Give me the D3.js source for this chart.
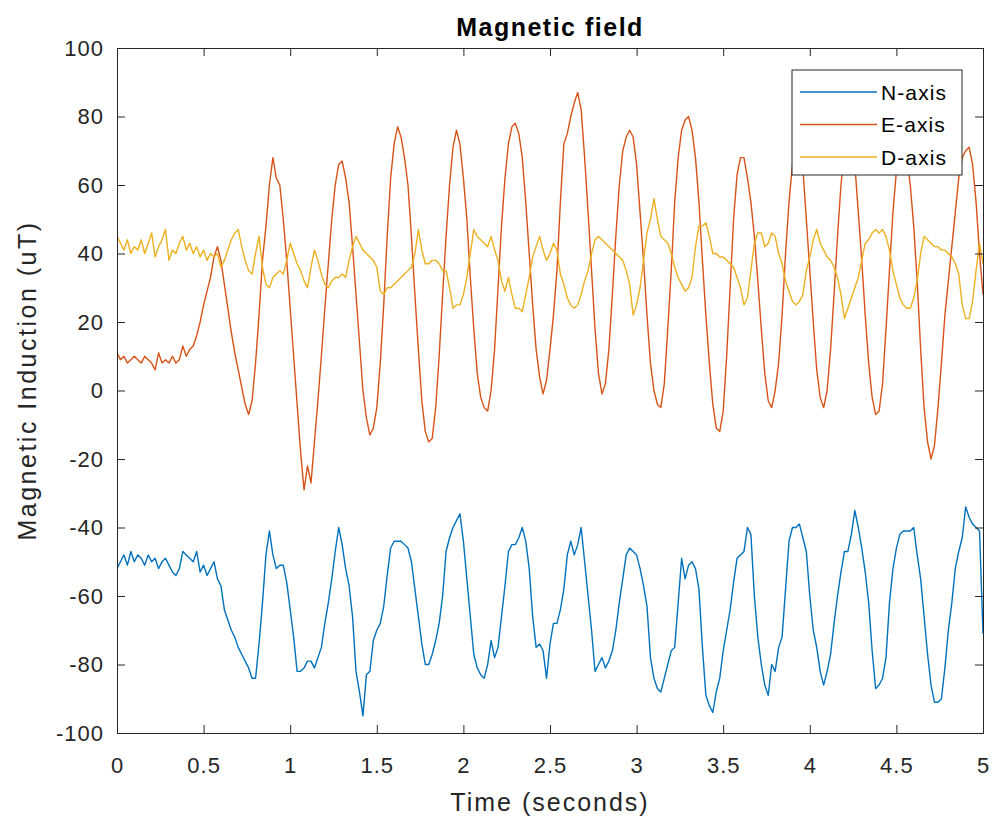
<!DOCTYPE html>
<html>
<head>
<meta charset="utf-8">
<script src="https://cdn.jsdelivr.net/npm/d3@7"></script>
<style>
  html, body { margin: 0; padding: 0; background: #fff; }
  svg { display: block; }
</style>
</head>
<body>
<svg id="chart" width="997" height="821"></svg>
<script>
// ---- data (sampled every 0.02 s, 0..5 s) ----
const sampleStep = 0.02;
const seriesNames = ["N-axis", "E-axis", "D-axis"];
const seriesColors = ["#0072BD", "#D95319", "#EDB120"];

const nAxis = [
  -52,-50,-48,-51,-47, -50,-48,-49,-51,-48, -50,-49,-52,-50,-49, -51,-53,-54,-52,-47,
  -48,-49,-50,-47,-53, -51,-54,-52,-50,-55, -57,-64,-67,-70,-72, -75,-77,-79,-81,-84,
  -84,-74,-62,-48,-41, -48,-52,-51,-51,-56, -64,-72,-82,-82,-81, -79,-79,-81,-78,-75,
  -68,-62,-55,-47,-40, -45,-52,-57,-66,-82, -88,-95,-83,-82,-73, -70,-68,-63,-54,-46,
  -44,-44,-44,-45,-46, -50,-58,-66,-74,-80, -80,-77,-73,-68,-60, -47,-43,-40,-38,-36,
  -44,-55,-66,-77,-81, -83,-84,-80,-73,-78, -75,-66,-57,-47,-45, -45,-43,-40,-44,-52,
  -66,-75,-74,-76,-84, -74,-68,-68,-64,-58, -48,-44,-48,-45,-40, -50,-60,-70,-82,-80,
  -78,-81,-79,-76,-70, -62,-55,-48,-46,-47, -48,-52,-57,-63,-78, -84,-87,-88,-84,-80,
  -76,-75,-62,-49,-55, -51,-50,-52,-58,-75, -89,-92,-94,-88,-84, -76,-70,-64,-56,-49,
  -48,-47,-40,-42,-60, -72,-80,-86,-89,-80, -82,-75,-72,-58,-44, -40,-40,-39,-43,-47,
  -60,-70,-75,-82,-86, -82,-77,-68,-60,-53, -47,-47,-42,-35,-40, -46,-53,-62,-76,-87,
  -86,-84,-78,-62,-52, -46,-42,-41,-41,-41, -40,-48,-55,-66,-77, -86,-91,-91,-90,-81,
  -70,-62,-52,-47,-43, -34,-37,-39,-40,-41, -71
];

const eAxis = [
  11,9,10,8,9, 10,9,8,10,9, 8,6,11,8,9, 8,10,8,9,13,
  10,12,13,16,20, 25,29,33,39,42, 38,31,24,17,11, 6,1,-4,-7,-3,
  8,22,38,48,60, 68,62,60,50,38, 24,10,-4,-18,-29, -22,-27,-15,-3,10,
  24,37,50,60,66, 67,62,55,42,28, 14,0,-8,-13,-11, -5,8,25,45,62,
  72,77,74,68,60, 45,28,12,-3,-12, -15,-14,-5,10,28, 45,60,71,76,72,
  62,50,33,18,5, -2,-5,-6,0,12, 30,48,62,72,77, 78,75,68,55,40,
  25,12,4,-1,3, 12,22,35,55,72, 75,80,84,87,82, 68,52,35,18,5,
  -1,2,12,28,45, 60,70,74,76,74, 66,52,38,22,8, 0,-4,-5,2,18,
  35,55,68,76,79, 80,76,68,55,38, 22,8,-4,-11,-12, -6,10,30,50,63,
  68,68,62,55,45, 32,18,5,-3,-5, 0,8,22,40,55, 66,73,74,65,50,
  35,20,6,-2,-5, 0,12,28,45,60, 70,75,74,66,52, 38,22,8,-2,-7,
  -6,2,18,35,52, 64,70,72,68,60, 48,32,12,-5,-15, -20,-16,-5,8,22,
  32,42,52,62,68, 70,71,66,55,40, 28
];

const dAxis = [
  45,43,41,44,40, 42,41,44,40,43, 46,39,42,44,47, 38,41,40,43,45,
  41,43,40,42,39, 41,38,40,39,40, 36,38,41,44,46, 47,42,38,35,34,
  40,45,36,31,30, 33,34,35,34,38, 43,40,37,35,32, 30,36,41,38,34,
  31,30,32,33,33, 34,33,38,42,45, 43,41,40,39,38, 36,29,28,30,30,
  31,32,33,34,35, 36,40,47,41,37, 37,38,38,37,35, 35,30,24,25,25,
  28,33,40,47,45, 44,43,42,45,41, 38,32,29,33,28, 24,24,23,28,33,
  39,42,45,41,38, 40,43,41,34,31, 27,25,24,25,28, 32,35,40,44,45,
  44,43,42,41,40, 39,38,35,31,22, 25,30,38,46,50, 56,50,45,44,43,
  40,36,33,31,29, 30,33,42,48,48, 49,45,40,40,39, 39,38,37,36,33,
  30,25,27,35,43, 46,46,42,43,46, 45,40,37,32,29, 26,25,26,28,35,
  39,44,47,43,41, 39,38,36,33,28, 21,24,27,30,33, 38,43,44,46,47,
  46,47,45,41,35, 31,27,25,24,24, 27,32,40,45,44, 43,42,42,41,41,
  40,39,37,34,25, 21,21,26,35,43, 37
];

const xTicks = [0, 0.5, 1, 1.5, 2, 2.5, 3, 3.5, 4, 4.5, 5];
const yTicks = [-100, -80, -60, -40, -20, 0, 20, 40, 60, 80, 100];
const titleText = "Magnetic field";
const xLabelText = "Time (seconds)";
const yLabelText = "Magnetic Induction (uT)";

(function draw() {
  const svg = d3.select("#chart");
  const pL = 117, pR = 983, pT = 48, pB = 733;
  const font = "'Liberation Sans', Arial, Helvetica, sans-serif";
  const axisColor = "#262626";

  const x = d3.scaleLinear().domain([0, 5]).range([pL, pR]);
  const y = d3.scaleLinear().domain([-100, 100]).range([pB, pT]);

  svg.append("rect").attr("x", 0).attr("y", 0).attr("width", 997).attr("height", 821).attr("fill", "#fff");

  svg.append("defs").append("clipPath").attr("id", "clip")
    .append("rect").attr("x", pL).attr("y", pT).attr("width", pR - pL).attr("height", pB - pT);

  const allSeries = [nAxis, eAxis, dAxis];
  const line = d3.line().x((d, i) => x(i * sampleStep)).y(d => y(d));
  const g = svg.append("g").attr("clip-path", "url(#clip)");
  allSeries.forEach((s, k) => {
    g.append("path").datum(s)
      .attr("d", line)
      .attr("fill", "none")
      .attr("stroke", seriesColors[k])
      .attr("stroke-width", 1.4)
      .attr("stroke-linejoin", "round");
  });

  const tickLen = 8;
  const fmt = d => String(d);
  const xBottom = svg.append("g").attr("transform", `translate(0,${pB})`)
    .call(d3.axisBottom(x).tickValues(xTicks).tickSize(-tickLen).tickPadding(24).tickFormat(fmt));
  const xTop = svg.append("g").attr("transform", `translate(0,${pT})`)
    .call(d3.axisTop(x).tickValues(xTicks).tickSize(-tickLen).tickFormat(""));
  const yLeft = svg.append("g").attr("transform", `translate(${pL},0)`)
    .call(d3.axisLeft(y).tickValues(yTicks).tickSize(-tickLen).tickPadding(13).tickFormat(fmt));
  const yRight = svg.append("g").attr("transform", `translate(${pR},0)`)
    .call(d3.axisRight(y).tickValues(yTicks).tickSize(-tickLen).tickFormat(""));

  [xBottom, xTop, yLeft, yRight].forEach(a => {
    a.select(".domain").attr("stroke", axisColor).attr("stroke-width", 1);
    a.selectAll(".tick line").attr("stroke", axisColor).attr("stroke-width", 1);
    a.selectAll(".tick text").attr("fill", axisColor)
      .style("font-family", font).style("font-size", "22px").style("letter-spacing", "1px");
  });

  svg.append("text").attr("x", (pL + pR) / 2).attr("y", 36)
    .attr("text-anchor", "middle").style("font-family", font).style("font-size", "25px")
    .style("letter-spacing", "1.5px")
    .style("font-weight", "bold").attr("fill", "#000").text(titleText);

  svg.append("text").attr("x", (pL + pR) / 2).attr("y", 811)
    .attr("text-anchor", "middle").style("font-family", font).style("font-size", "25px")
    .style("letter-spacing", "2px")
    .attr("fill", axisColor).text(xLabelText);

  svg.append("text").attr("transform", `translate(36,${(pT + pB) / 2 - 10}) rotate(-90)`)
    .attr("text-anchor", "middle").style("font-family", font).style("font-size", "25px")
    .style("letter-spacing", "2.5px")
    .attr("fill", axisColor).text(yLabelText);

  const lg = svg.append("g");
  lg.append("rect").attr("x", 792).attr("y", 70).attr("width", 170).attr("height", 105)
    .attr("fill", "#fff").attr("stroke", axisColor).attr("stroke-width", 1);
  seriesNames.forEach((name, k) => {
    const yy = 92 + k * 32.5;
    lg.append("line").attr("x1", 800).attr("x2", 877).attr("y1", yy).attr("y2", yy)
      .attr("stroke", seriesColors[k]).attr("stroke-width", 1.4);
    lg.append("text").attr("x", 881).attr("y", yy).attr("dy", "0.36em")
      .style("font-family", font).style("font-size", "21px").style("letter-spacing", "1.1px")
      .attr("fill", "#000").text(name);
  });
})();
</script>
</body>
</html>
